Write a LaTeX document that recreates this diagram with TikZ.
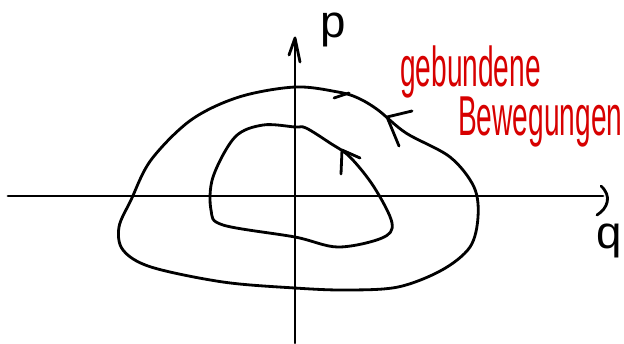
\documentclass[tikz,border=0pt]{standalone}
\usepackage{fontspec}
\setmainfont{Liberation Sans}
\usepackage{tikz}
\usetikzlibrary{calc}
\usepackage{xcolor}
\definecolor{inkred}{RGB}{215,0,0}

\begin{document}
\begin{tikzpicture}[x=0.02cm, y=-0.02cm, line cap=round, line join=round,
    ink/.style={line width=1.6pt},
    label/.style={inner sep=0pt, font=\fontsize{26}{28}\selectfont},
    note/.style={inner sep=0pt, text=inkred, xscale=0.5, font=\fontsize{32}{34}\selectfont}]
    \useasboundingbox (0,0) rectangle (624,343);

    % Coordinates
    \coordinate (Qstart) at (8,196);
    \coordinate (Qend) at (603,196);
    \coordinate (Pstart) at (295,343);
    \coordinate (Pend) at (295,38);

    % Axes
    \draw[ink] (Qstart) -- (Qend);
    \draw[ink] (Pstart) -- (Pend);
    \draw[ink] (289,55) -- (Pend) -- (300,62);
    \draw[ink] (601,186) .. controls (612,196) and (608,208) .. (597,215);

    % Outer orbit
    \draw[ink] plot[smooth cycle, tension=0.55] coordinates {
        (295,87) (338,92) (358,98) (378,110) (406,133) (450,157) (474,187)
        (478,217) (470,247) (442,270) (398,287) (346,290) (295,288)
        (223,282) (151,267) (123,250) (119,227) (131,200) (151,160)
        (191,120) (239,97)};

    % Inner orbit
    \draw[ink] plot[smooth cycle, tension=0.55] coordinates {
        (295,127) (306,128) (330,143) (350,157) (374,187) (392,223)
        (382,238) (338,247) (295,237) (223,225) (211,210) (213,177)
        (235,137) (263,125)};

    % Arrow marks
    \coordinate (OuterTip) at (387,117);
    \coordinate (InnerTip) at (342,150);
    \draw[ink] (334,98) -- (349,93);
    \draw[ink] (412,111) -- (OuterTip) -- (399,146);
    \draw[ink] (360,158) -- (InnerTip) -- (341,174);

    % Labels
    \node[label] (p) at (333,30) {p};
    \node[label] (q) at (609,241) {q};
    \node[note, anchor=base west] (geb) at (400,86) {gebundene};
    \node[note, anchor=base west] (bew) at (458,135) {Bewegungen};
\end{tikzpicture}
\end{document}
